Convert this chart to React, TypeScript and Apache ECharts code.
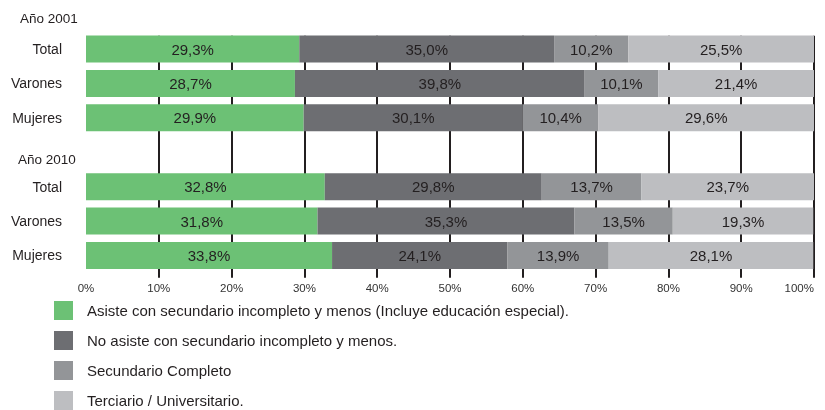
import React, { useEffect, useRef } from "react";
import * as echarts from "echarts";

const rowKeys = ["t01", "v01", "m01", "gap", "t10", "v10", "m10"];
const rowLabels = ["Total", "Varones", "Mujeres", "", "Total", "Varones", "Mujeres"];
const yearLabels = ["Año 2001", "Año 2010"];
const seriesNames = [
  "Asiste con secundario incompleto y menos (Incluye educación especial).",
  "No asiste con secundario incompleto y menos.",
  "Secundario Completo",
  "Terciario / Universitario.",
];
const asiste = [29.3, 28.7, 29.9, null, 32.8, 31.8, 33.8];
const noAsiste = [35.0, 39.8, 30.1, null, 29.8, 35.3, 24.1];
const secundario = [10.2, 10.1, 10.4, null, 13.7, 13.5, 13.9];
const terciario = [25.5, 21.4, 29.6, null, 23.7, 19.3, 28.1];
const tickValues = [10, 20, 30, 40, 50, 60, 70, 80, 90, 100];
const colors = ["#6cc175", "#6d6e72", "#939598", "#bdbec1"];

const FONT = "Liberation Sans, Arial, sans-serif";
const fmt = (v: number) => v.toFixed(1).replace(".", ",") + "%";

export default function App() {
  const ref = useRef<HTMLDivElement>(null);
  useEffect(() => {
    const chart = echarts.init(ref.current!, undefined, { renderer: "svg" });
    const values = [asiste, noAsiste, secundario, terciario];
    chart.setOption({
      animation: false,
      textStyle: { fontFamily: FONT },
      grid: {
        left: 86,
        right: 11,
        top: 31.8,
        bottom: 137.3,
        containLabel: false,
        outerBoundsMode: "none",
      },
      xAxis: {
        type: "value",
        min: 0,
        max: 100,
        interval: 10,
        offset: 5,
        axisLine: { show: false },
        splitLine: { show: false },
        axisTick: {
          show: true,
          inside: true,
          length: 242,
          customValues: tickValues,
          lineStyle: { color: "#231f20", width: 2 },
        },
        axisLabel: {
          margin: 4,
          fontSize: 11.5,
          fontFamily: FONT,
          color: "#333",
          alignMaxLabel: "right",
          formatter: (v: number) => v + "%",
        },
      },
      yAxis: {
        type: "category",
        inverse: true,
        data: rowKeys,
        axisLine: { show: false },
        axisTick: { show: false },
        axisLabel: {
          margin: 24,
          fontSize: 14,
          fontFamily: FONT,
          color: "#231f20",
          formatter: (v: string) => rowLabels[rowKeys.indexOf(v)],
        },
      },
      legend: {
        orient: "vertical",
        left: 54,
        top: 301,
        height: 109,
        padding: 0,
        itemWidth: 19,
        itemHeight: 19,
        itemGap: 11,
        icon: "rect",
        selectedMode: false,
        textStyle: { fontSize: 15, fontFamily: FONT, color: "#231f20", padding: [0, 0, 0, 9] },
        data: seriesNames,
      },
      graphic: [
        {
          type: "text",
          left: 20,
          top: 11,
          style: { text: yearLabels[0], fontSize: 13.5, fill: "#231f20", fontFamily: FONT },
        },
        {
          type: "text",
          left: 18,
          top: 152,
          style: { text: yearLabels[1], fontSize: 13.5, fill: "#231f20", fontFamily: FONT },
        },
      ],
      series: seriesNames.map((name, i) => ({
        name,
        type: "bar",
        stack: "total",
        barWidth: 27,
        itemStyle: { color: colors[i] },
        label: {
          show: true,
          position: "inside",
          fontSize: 15,
          fontFamily: FONT,
          color: "#231f20",
          formatter: (p: any) => (p.value == null ? "" : fmt(p.value)),
        },
        data: values[i],
      })),
    });
    return () => chart.dispose();
  }, []);
  return (
    <div
      ref={ref}
      style={{ position: "fixed", left: 0, top: 0, width: 825, height: 410 }}
    />
  );
}
